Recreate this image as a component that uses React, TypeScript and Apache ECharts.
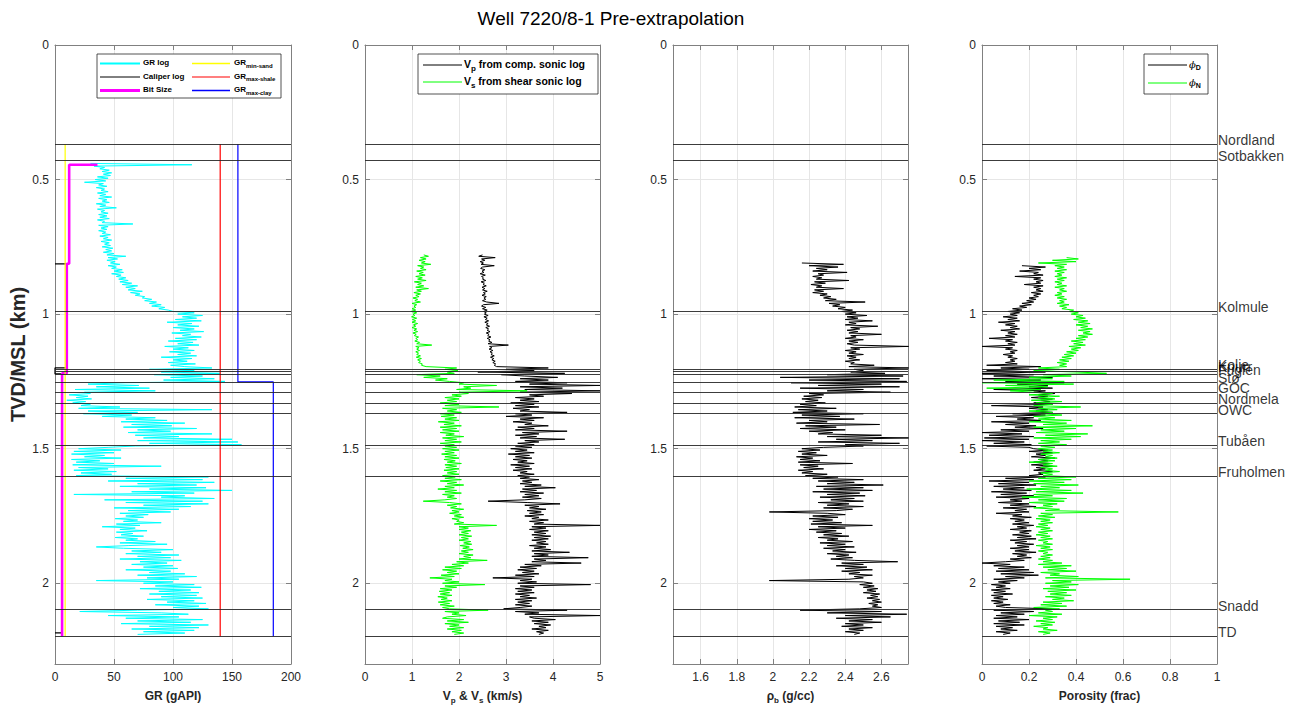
import React, { useEffect, useRef } from "react";
import * as echarts from "echarts";

// ---------------- data ----------------
const STEP = 0.005; // km sampling of the hand-read logs

const GR_START = 0.44;
const GR = [
  30, 116, 33, 42, 38, 46, 40, 48, 41, 47,
  36, 45, 34, 43, 25, 41, 37, 44, 35, 42,
  39, 45, 36, 43, 38, 48, 37, 44, 40, 46,
  35, 43, 38, 52, 36, 42, 39, 45, 37, 44,
  38, 46, 36, 42, 40, 66, 37, 45, 39, 44,
  37, 43, 40, 47, 38, 45, 41, 48, 39, 46,
  42, 47, 40, 49, 43, 48, 41, 50, 44, 60,
  45, 53, 44, 51, 47, 55, 45, 52, 48, 57,
  50, 58, 48, 56, 52, 60, 54, 62, 55, 65,
  57, 70, 60, 68, 62, 74, 64, 72, 68, 76,
  74, 82, 76, 86, 80, 90, 82, 93, 88, 96,
  100, 118, 104, 125, 108, 120, 102, 124, 95, 116,
  104, 122, 100, 118, 106, 126, 99, 115, 108, 124,
  102, 120, 96, 117, 104, 122, 93, 113, 100, 118,
  97, 115, 104, 120, 90, 116, 100, 112, 96, 119,
  98, 110, 133, 80, 118, 90, 140, 84, 125, 98,
  135, 92, 144, 60, 28, 71, 35, 80, 17, 85,
  25, 30, 12, 28, 18, 31, 10, 26, 15, 30,
  22, 55, 20, 133, 28, 70, 24, 65, 40, 85,
  60, 95, 56, 110, 65, 99, 58, 120, 70, 98,
  62, 133, 68, 105, 75, 150, 70, 155, 80, 158,
  68, 45, 20, 56, 16, 50, 14, 42, 25, 56,
  14, 38, 18, 50, 15, 90, 20, 45, 16, 52,
  22, 48, 18, 130, 60, 125, 45, 135, 70, 120,
  55, 128, 80, 150, 65, 118, 16, 110, 90, 135,
  42, 125, 60, 130, 75, 115, 50, 105, 62, 98,
  55, 79, 60, 75, 51, 70, 58, 90, 52, 72,
  40, 68, 55, 78, 52, 66, 56, 75, 51, 70,
  60, 85, 55, 95, 62, 35, 58, 100, 65, 90,
  60, 105, 70, 98, 55, 107, 72, 95, 65, 100,
  75, 104, 60, 98, 80, 110, 70, 120, 78, 105,
  35, 100, 75, 118, 85, 124, 72, 115, 88, 122,
  80, 120, 90, 125, 78, 118, 95, 128, 85, 122,
  100, 130, 70, 21, 90, 113, 45, 105, 60, 125,
  70, 115, 56, 130, 80, 122, 65, 118, 75, 110,
  70,
];

const VP_START = 0.78;
const VP = [
  2.5, 2.42, 2.77, 2.48, 2.55, 2.45, 2.52, 2.47, 2.75, 2.5,
  2.46, 2.55, 2.49, 2.53, 2.45, 2.56, 2.48, 2.52, 2.5, 2.57,
  2.47, 2.54, 2.51, 2.58, 2.49, 2.55, 2.5, 2.6, 2.52, 2.56,
  2.49, 2.58, 2.53, 2.57, 2.5, 2.59, 2.85, 2.52, 2.48, 2.57,
  2.5, 2.6, 2.52, 2.58, 2.54, 2.62, 2.53, 2.6, 2.56, 2.63,
  2.55, 2.62, 2.58, 2.65, 2.57, 2.63, 2.6, 2.66, 2.58, 2.64,
  2.61, 2.68, 2.6, 2.66, 2.63, 2.7, 2.62, 3.05, 2.65, 2.7,
  2.64, 2.72, 2.66, 2.71, 2.68, 2.75, 2.67, 2.74, 2.7, 2.77,
  2.72, 2.78, 2.75, 2.8, 3.9, 3.0, 3.6, 2.4, 4.25, 2.9,
  3.4, 4.1, 3.3, 3.9, 3.2, 4.3, 3.5, 5.0, 3.3, 4.2,
  3.4, 5.0, 3.3, 4.4, 3.5, 3.8, 3.2, 3.6, 3.3, 3.7,
  3.1, 3.6, 3.2, 3.7, 3.15, 3.5, 3.3, 4.3, 3.2, 3.55,
  3.0, 3.8, 3.3, 3.6, 3.15, 3.55, 3.4, 3.9, 3.25, 3.6,
  3.2, 4.3, 3.35, 3.7, 3.2, 3.65, 3.3, 4.25, 3.4, 3.7,
  3.25, 3.6, 3.2, 3.55, 3.1, 3.45, 3.2, 3.6, 3.05, 3.5,
  3.2, 3.55, 3.15, 3.45, 3.25, 3.6, 3.1, 3.5, 3.2, 3.55,
  3.15, 3.45, 3.3, 3.6, 3.25, 3.5, 3.3, 3.7, 3.35, 3.55,
  3.3, 3.75, 3.4, 4.05, 3.35, 3.65, 3.3, 3.8, 3.4, 3.7,
  3.35, 3.75, 3.4, 2.62, 3.45, 4.15, 3.4, 3.7, 3.5, 3.85,
  3.45, 3.75, 3.5, 3.8, 3.4, 3.7, 3.55, 3.9, 3.5, 3.8,
  3.6, 5.0, 3.55, 3.85, 3.5, 3.9, 3.6, 3.85, 3.55, 3.95,
  3.6, 3.9, 3.55, 3.85, 3.65, 3.9, 3.5, 3.85, 3.6, 3.95,
  3.55, 4.35, 3.6, 3.9, 3.55, 4.75, 3.6, 3.85, 3.55, 4.6,
  3.4, 3.75, 3.3, 3.65, 3.25, 3.6, 3.35, 3.7, 3.2, 3.6,
  2.72, 3.55, 3.3, 3.65, 3.25, 4.8, 3.3, 3.6, 3.2, 3.55,
  3.25, 3.6, 3.2, 3.5, 3.3, 3.65, 3.2, 3.55, 3.25, 3.5,
  3.2, 3.55, 3.3, 2.95, 4.3, 3.2, 3.7, 3.4, 5.0, 3.5,
  3.6, 4.05, 3.55, 3.9, 3.6, 3.95, 3.7, 3.85, 3.55, 3.9,
  3.65, 3.8, 3.7,
];

const VS_START = 0.78;
const VS = [
  1.25, 1.35, 1.18, 1.3, 1.15, 1.28, 1.2, 1.4, 1.12, 1.25,
  1.18, 1.3, 1.1, 1.24, 1.15, 1.28, 1.08, 1.22, 1.12, 1.3,
  1.05, 1.2, 1.12, 1.25, 1.08, 1.35, 1.1, 1.2, 1.04, 1.18,
  1.08, 1.15, 1.02, 1.12, 1.06, 1.18, 1.0, 1.1, 1.04, 1.08,
  1.0, 1.08, 0.98, 1.1, 1.02, 1.06, 0.99, 1.1, 1.01, 1.08,
  1.0, 1.12, 1.03, 1.08, 1.0, 1.1, 1.04, 1.12, 1.02, 1.09,
  1.05, 1.14, 1.08, 1.12, 1.06, 1.16, 1.1, 1.42, 1.08, 1.15,
  1.1, 1.16, 1.08, 1.14, 1.1, 1.18, 1.09, 1.2, 1.12, 1.18,
  1.14, 1.22, 1.2, 1.3, 1.95, 1.7, 1.98, 1.75, 1.9, 1.1,
  1.6, 1.25, 1.75, 1.5, 1.8, 2.1, 2.0, 2.8, 2.1, 2.25,
  1.95, 3.45, 2.0, 2.2, 1.85, 2.05, 1.7, 2.0, 1.75, 1.95,
  1.6, 2.0, 1.7, 2.85, 1.65, 1.95, 1.75, 2.05, 1.6, 1.9,
  1.62, 1.95, 1.7, 2.0, 1.56, 1.9, 1.68, 2.05, 1.6, 1.95,
  1.65, 2.0, 1.6, 1.9, 1.72, 2.1, 1.65, 1.95, 1.7, 2.05,
  1.6, 1.9, 1.7, 1.95, 1.65, 2.0, 1.7, 1.9, 1.63, 1.95,
  1.7, 2.0, 1.68, 1.92, 1.75, 2.05, 1.7, 1.95, 1.72, 2.0,
  1.68, 1.95, 1.75, 2.0, 1.65, 1.92, 1.7, 2.05, 1.6, 1.95,
  1.75, 2.1, 1.7, 1.9, 1.55, 1.95, 1.7, 2.05, 1.65, 1.9,
  1.75, 1.95, 1.7, 1.24, 1.8, 2.05, 1.75, 1.95, 1.82, 2.1,
  1.85, 2.0, 1.8, 2.05, 1.9, 2.1, 1.85, 2.0, 1.95, 2.1,
  1.9, 2.8, 2.0, 2.2, 2.0, 2.25, 2.05, 2.2, 2.0, 2.27,
  2.05, 2.2, 2.0, 2.25, 2.1, 2.27, 2.02, 2.22, 2.08, 2.3,
  2.05, 2.2, 2.0, 2.3, 2.1, 2.25, 2.0, 2.6, 1.95, 2.2,
  1.85, 2.1, 1.7, 2.05, 1.65, 1.95, 1.75, 2.0, 1.62, 1.9,
  1.38, 1.85, 1.7, 2.0, 1.65, 2.55, 1.7, 1.95, 1.6, 1.85,
  1.58, 1.8, 1.6, 1.85, 1.55, 1.75, 1.62, 1.85, 1.56, 1.8,
  1.6, 1.9, 1.65, 1.8, 2.62, 1.7, 2.0, 1.85, 2.15, 1.75,
  1.65, 2.1, 1.75, 2.2, 1.7, 2.0, 1.8, 2.1, 1.75, 2.05,
  1.85, 2.1, 1.9,
];

const RHO_START = 0.81;
const RHO = [
  2.16, 2.39, 2.2, 2.36, 2.24, 2.3, 2.22, 2.41, 2.25, 2.28,
  2.22, 2.27, 2.24, 2.42, 2.23, 2.29, 2.21, 2.27, 2.24, 2.39,
  2.23, 2.28, 2.22, 2.3, 2.26, 2.32, 2.28, 2.35, 2.29, 2.51,
  2.31, 2.37, 2.33, 2.4, 2.36, 2.44, 2.38, 2.46, 2.4, 2.52,
  2.41, 2.47, 2.4, 2.55, 2.42, 2.46, 2.4, 2.58, 2.43, 2.48,
  2.41, 2.47, 2.42, 2.6, 2.43, 2.46, 2.4, 2.5, 2.42, 2.47,
  2.41, 2.45, 2.75, 2.43, 2.48, 2.4, 2.46, 2.42, 2.5, 2.41,
  2.46, 2.42, 2.48, 2.4, 2.45, 2.43, 2.56, 2.42, 2.75, 2.45,
  2.5, 2.43, 2.62, 2.3, 2.72, 2.04, 2.7, 2.2, 2.74, 2.1,
  2.6, 2.25, 2.7, 2.15, 2.5, 2.3, 2.65, 2.2, 2.28, 2.17,
  2.27, 2.16, 2.25, 2.18, 2.29, 2.15, 2.24, 2.12, 2.35, 2.14,
  2.3, 2.11, 2.5, 2.16, 2.37, 2.12, 2.45, 2.2, 2.3, 2.13,
  2.59, 2.18, 2.35, 2.15, 2.4, 2.2, 2.33, 2.25, 2.6, 2.3,
  2.75, 2.35, 2.55, 2.25, 2.7, 2.4, 2.5, 2.28, 2.16, 2.26,
  2.14, 2.24, 2.16, 2.3, 2.13, 2.22, 2.15, 2.26, 2.14, 2.44,
  2.15, 2.25, 2.17, 2.28, 2.14, 2.22, 2.16, 2.3, 2.18, 2.36,
  2.22, 2.5, 2.25, 2.45, 2.3, 2.61, 2.24, 2.5, 2.28, 2.55,
  2.22, 2.48, 2.3, 2.51, 2.26, 2.45, 2.32, 2.5, 2.25, 2.42,
  2.3, 2.5, 2.28, 2.44, 2.35, 1.98, 2.3, 2.4, 2.22, 2.36,
  2.2, 2.33, 2.22, 2.38, 2.21, 2.55, 2.25, 2.4, 2.2, 2.35,
  2.24, 2.38, 2.28, 2.42, 2.25, 2.36, 2.3, 2.44, 2.26, 2.4,
  2.3, 2.45, 2.28, 2.4, 2.33, 2.46, 2.3, 2.42, 2.35, 2.44,
  2.32, 2.45, 2.69, 2.38, 2.5, 2.35, 2.52, 2.4, 2.55, 2.38,
  2.48, 2.42, 2.55, 2.45, 2.5, 2.42, 1.98, 2.5, 2.55, 2.48,
  2.56, 2.5, 2.58, 2.52, 2.57, 2.5, 2.59, 2.54, 2.58, 2.52,
  2.59, 2.55, 2.6, 2.53, 2.58, 2.55, 2.6, 2.48, 2.15, 2.6,
  2.3, 2.74, 2.4, 2.65, 2.35, 2.55, 2.42, 2.6, 2.4, 2.5,
  2.38, 2.55, 2.42, 2.5, 2.4, 2.48, 2.45,
];

const PHID_START = 0.82;
const PHID = [
  0.17, 0.27, 0.2, 0.25, 0.16, 0.24, 0.22, 0.26, 0.14, 0.25,
  0.22, 0.26, 0.23, 0.25, 0.18, 0.26, 0.22, 0.25, 0.23, 0.26,
  0.21, 0.25, 0.22, 0.24, 0.2, 0.23, 0.19, 0.22, 0.17, 0.21,
  0.16, 0.19, 0.13, 0.17, 0.11, 0.16, 0.12, 0.15, 0.09, 0.15,
  0.11, 0.16, 0.07, 0.14, 0.1, 0.15, 0.12, 0.16, 0.08, 0.14,
  0.11, 0.15, 0.1, 0.14, 0.03, 0.13, 0.1, 0.15, 0.11, 0.14,
  0.0, 0.13, 0.1, 0.15, 0.12, 0.14, 0.09, 0.13, 0.11, 0.15,
  0.12, 0.14, 0.1, 0.15, 0.02, 0.25, 0.08, 0.2, 0.02, 0.27,
  0.0, 0.22, 0.05, 0.3, 0.0, 0.25, 0.1, 0.35, 0.15, 0.28,
  0.2, 0.3, 0.05, 0.27, 0.22, 0.31, 0.24, 0.28, 0.21, 0.3,
  0.25, 0.29, 0.22, 0.3, 0.04, 0.26, 0.2, 0.28, 0.23, 0.3,
  0.13, 0.27, 0.06, 0.22, 0.15, 0.25, 0.04, 0.2, 0.1, 0.23,
  0.14, 0.26, 0.08, 0.2, 0.0, 0.17, 0.03, 0.22, 0.01, 0.2,
  0.0, 0.18, 0.05, 0.21, 0.02, 0.2, 0.22, 0.28, 0.2, 0.3,
  0.23, 0.27, 0.21, 0.31, 0.24, 0.28, 0.22, 0.29, 0.21, 0.3,
  0.23, 0.27, 0.22, 0.3, 0.24, 0.26, 0.2, 0.27, 0.1, 0.22,
  0.03, 0.2, 0.07, 0.23, 0.05, 0.18, 0.09, 0.21, 0.04, 0.19,
  0.08, 0.22, 0.06, 0.2, 0.12, 0.17, 0.07, 0.2, 0.12, 0.23,
  0.09, 0.19, 0.14, 0.2, 0.06, 0.17, 0.13, 0.21, 0.12, 0.18,
  0.14, 0.2, 0.13, 0.22, 0.15, 0.19, 0.12, 0.21, 0.16, 0.2,
  0.13, 0.21, 0.15, 0.23, 0.12, 0.19, 0.14, 0.22, 0.15, 0.2,
  0.12, 0.2, 0.14, 0.23, 0.13, 0.19, 0.15, 0.21, 0.12, 0.18,
  0.1, 0.0, 0.12, 0.05, 0.18, 0.07, 0.2, 0.06, 0.22, 0.08,
  0.24, 0.1, 0.18, 0.05, 0.15, 0.07, 0.12, 0.04, 0.1, 0.06,
  0.12, 0.04, 0.1, 0.05, 0.13, 0.04, 0.09, 0.05, 0.11, 0.04,
  0.09, 0.05, 0.12, 0.06, 0.1, 0.3, 0.05, 0.22, 0.08, 0.18,
  0.06, 0.15, 0.05, 0.2, 0.07, 0.16, 0.05, 0.18, 0.06, 0.13,
  0.08, 0.15, 0.06, 0.12, 0.09,
];

const PHIN_START = 0.79;
const PHIN = [
  0.36, 0.41, 0.3, 0.4, 0.24, 0.36, 0.31, 0.35, 0.32, 0.36,
  0.31, 0.35, 0.32, 0.34, 0.31, 0.36, 0.32, 0.35, 0.31, 0.34,
  0.32, 0.36, 0.31, 0.35, 0.33, 0.36, 0.32, 0.34, 0.31, 0.35,
  0.32, 0.36, 0.33, 0.35, 0.32, 0.37, 0.33, 0.36, 0.34, 0.39,
  0.37, 0.41, 0.38, 0.43, 0.4, 0.44, 0.39, 0.45, 0.41, 0.46,
  0.4, 0.45, 0.42, 0.47, 0.41, 0.46, 0.43, 0.47, 0.41, 0.45,
  0.4, 0.44, 0.38, 0.43, 0.39, 0.44, 0.37, 0.42, 0.38, 0.41,
  0.36, 0.4, 0.35, 0.39, 0.34, 0.38, 0.33, 0.37, 0.32, 0.36,
  0.33, 0.36, 0.24, 0.33, 0.22, 0.4, 0.53, 0.26, 0.38, 0.2,
  0.3, 0.05, 0.35, 0.0, 0.39, 0.1, 0.28, 0.02, 0.25, 0.12,
  0.22, 0.3, 0.2, 0.33, 0.24, 0.31, 0.21, 0.34, 0.23, 0.3,
  0.22, 0.42, 0.24, 0.32, 0.2, 0.3, 0.25, 0.34, 0.22, 0.31,
  0.24, 0.38, 0.2, 0.36, 0.26, 0.47, 0.22, 0.4, 0.25, 0.35,
  0.23, 0.45, 0.27, 0.42, 0.22, 0.38, 0.25, 0.33, 0.24, 0.36,
  0.25, 0.31, 0.24, 0.3, 0.26, 0.33, 0.25, 0.3, 0.27, 0.32,
  0.24, 0.31, 0.2, 0.3, 0.26, 0.32, 0.25, 0.3, 0.27, 0.33,
  0.25, 0.3, 0.26, 0.4, 0.24, 0.38, 0.2, 0.35, 0.22, 0.41,
  0.25, 0.33, 0.19, 0.38, 0.23, 0.43, 0.22, 0.3, 0.17, 0.36,
  0.24, 0.35, 0.2, 0.32, 0.26, 0.3, 0.22, 0.33, 0.27, 0.58,
  0.25, 0.3, 0.24, 0.31, 0.23, 0.29, 0.25, 0.3, 0.24, 0.28,
  0.23, 0.29, 0.25, 0.3, 0.24, 0.28, 0.23, 0.29, 0.25, 0.3,
  0.24, 0.28, 0.26, 0.3, 0.23, 0.29, 0.25, 0.3, 0.24, 0.28,
  0.26, 0.3, 0.25, 0.29, 0.24, 0.3, 0.26, 0.34, 0.24, 0.38,
  0.26, 0.36, 0.28, 0.4, 0.25, 0.33, 0.29, 0.41, 0.27, 0.63,
  0.3, 0.38, 0.27, 0.41, 0.29, 0.37, 0.26, 0.4, 0.28, 0.36,
  0.29, 0.38, 0.27, 0.35, 0.3, 0.39, 0.26, 0.34, 0.25, 0.36,
  0.22, 0.33, 0.27, 0.3, 0.24, 0.34, 0.2, 0.32, 0.26, 0.3,
  0.23, 0.31, 0.25, 0.3, 0.22, 0.28, 0.26, 0.32, 0.24, 0.29,
  0.26,
];

const FORMATION_NAMES = [
  "Nordland", "Sotbakken", "Kolmule", "Kolje", "Knurr", "Fuglen", "Stø",
  "GOC", "Nordmela", "OWC", "Tubåen", "Fruholmen", "Snadd", "TD",
];
const FORMATION_DEPTHS = [
  0.368, 0.428, 0.99, 1.203, 1.212, 1.222, 1.252,
  1.289, 1.33, 1.37, 1.487, 1.603, 2.098, 2.197,
];

const BIT_DEPTH = [0.445, 0.445, 0.813, 0.813, 1.22, 1.22, 2.197];
const BIT_SIZE = [36, 12, 12, 10, 10, 6, 6];
const CAL_DEPTH = [0.813, 0.813, 1.2, 1.2, 1.222, 1.222, 2.184, 2.184];
const CAL_VALUE = [0, 10, 10, 0, 0, 6, 6, 0];
const CUTOFF_DEPTH = [0.368, 2.197];
const GR_MIN_SAND = 8.6;
const GR_MAX_SHALE = 140;
const CLAY_DEPTH = [0.368, 1.252, 1.252, 2.197];
const CLAY_VALUE = [155, 155, 185, 185];

const Y_MAX = 2.3;
const Y_TICK = 0.5;

// ---------------- styling ----------------
const FONT = "'Liberation Sans', Arial, Helvetica, sans-serif";
const AXIS_COLOR = "#808080";
const TEXT_COLOR = "#262626";
const GRID_COLOR = "#e6e6e6";
const TOP = 45;
const HEIGHT = 619;

const NAME_RICH = {
  b: { fontSize: 12, fontWeight: "bold", color: TEXT_COLOR, fontFamily: FONT, lineHeight: 14, verticalAlign: "top" },
  s: { fontSize: 8, fontWeight: "bold", color: TEXT_COLOR, fontFamily: FONT, lineHeight: 10, padding: [6, 0, 0, 0], verticalAlign: "top" },
};

const PANELS = [
  { left: 55, width: 236, min: 0, max: 200, interval: 50 as number | undefined, showEnds: true, name: "{b|GR (gAPI)}" },
  { left: 365, width: 235, min: 0, max: 5, interval: 1 as number | undefined, showEnds: true, name: "{b|V}{s|p}{b| & V}{s|s}{b| (km/s)}" },
  { left: 673, width: 235, min: 1.447, max: 2.747, interval: undefined as number | undefined, showEnds: false, name: "{b|ρ}{s|b}{b| (g/cc)}" },
  { left: 982, width: 235, min: 0, max: 1, interval: 0.2 as number | undefined, showEnds: true, name: "{b|Porosity (frac)}" },
];

function pairs(start: number, values: number[]) {
  return values.map((v, i) => [v, +(start + i * STEP).toFixed(4)]);
}
function zip(vals: number[], depths: number[]) {
  return vals.map((v, i) => [v, depths[i]]);
}

function buildOption() {
  const grid: any[] = [];
  const xAxis: any[] = [];
  const yAxis: any[] = [];
  const series: any[] = [];

  PANELS.forEach((p, i) => {
    grid.push({ left: p.left, top: TOP, width: p.width, height: HEIGHT, containLabel: false });
    const xCommon: any = {
      gridIndex: i, type: "value", min: p.min, max: p.max,
      axisLine: { show: true, onZero: false, lineStyle: { color: AXIS_COLOR, width: 1 } },
      axisTick: { show: true, inside: true, length: 5, lineStyle: { color: AXIS_COLOR } },
    };
    if (p.interval !== undefined) xCommon.interval = p.interval;
    else { xCommon.splitNumber = 6; xCommon.maxInterval = 0.2; xCommon.minInterval = 0.2; }
    xAxis.push({
      ...xCommon, position: "bottom",
      axisLabel: { show: true, color: TEXT_COLOR, fontSize: 12, fontFamily: FONT, margin: 7, showMinLabel: p.showEnds, showMaxLabel: p.showEnds },
      splitLine: { show: true, lineStyle: { color: GRID_COLOR, width: 1 } },
      name: p.name, nameLocation: "middle", nameGap: 26,
      nameTextStyle: { fontSize: 12, fontWeight: "bold", color: TEXT_COLOR, fontFamily: FONT, rich: NAME_RICH },
    });
    xAxis.push({ ...xCommon, position: "top", axisLabel: { show: false }, splitLine: { show: false } });
    const yCommon: any = {
      gridIndex: i, type: "value", min: 0, max: Y_MAX, interval: Y_TICK, inverse: true,
      axisLine: { show: true, onZero: false, lineStyle: { color: AXIS_COLOR, width: 1 } },
      axisTick: { show: true, inside: true, length: 5, lineStyle: { color: AXIS_COLOR } },
    };
    yAxis.push({
      ...yCommon, position: "left",
      axisLabel: { show: true, color: TEXT_COLOR, fontSize: 12, fontFamily: FONT, margin: 6, showMaxLabel: false },
      splitLine: { show: true, lineStyle: { color: GRID_COLOR, width: 1 } },
      ...(i === 0
        ? {
            name: "TVD/MSL (km)", nameLocation: "middle", nameGap: 27, nameRotate: 90,
            nameTextStyle: { fontSize: 20, fontWeight: "bold", color: TEXT_COLOR, fontFamily: FONT },
          }
        : {}),
    });
    yAxis.push({ ...yCommon, position: "right", axisLabel: { show: false }, splitLine: { show: false } });
  });

  const line = (i: number, name: string, data: any[], color: string, width: number, z = 3) => ({
    type: "line", name, xAxisIndex: 2 * i, yAxisIndex: 2 * i, data, showSymbol: false, symbol: "none",
    lineStyle: { color, width }, itemStyle: { color }, silent: true, z, clip: true,
  });

  // panel 1
  series.push(line(0, "GR log", pairs(GR_START, GR), "#00ffff", 1));
  series.push(line(0, "Caliper log", zip(CAL_VALUE, CAL_DEPTH), "#000000", 1.2));
  series.push(line(0, "Bit Size", zip(BIT_SIZE, BIT_DEPTH), "#ff00ff", 2.6));
  series.push(line(0, "GR min-sand", CUTOFF_DEPTH.map((d) => [GR_MIN_SAND, d]), "#ffff00", 1.2));
  series.push(line(0, "GR max-shale", CUTOFF_DEPTH.map((d) => [GR_MAX_SHALE, d]), "#ff0000", 1.2));
  series.push(line(0, "GR max-clay", zip(CLAY_VALUE, CLAY_DEPTH), "#0000ff", 1.2));
  // panel 2
  series.push(line(1, "Vp", pairs(VP_START, VP), "#000000", 1));
  series.push(line(1, "Vs", pairs(VS_START, VS), "#00ff00", 1));
  // panel 3
  series.push(line(2, "rho", pairs(RHO_START, RHO), "#000000", 1));
  // panel 4
  series.push(line(3, "phiD", pairs(PHID_START, PHID), "#000000", 1));
  series.push(line(3, "phiN", pairs(PHIN_START, PHIN), "#00ff00", 1));

  // formation tops
  PANELS.forEach((p, i) => {
    series.push({
      type: "lines", coordinateSystem: "cartesian2d", xAxisIndex: 2 * i, yAxisIndex: 2 * i,
      silent: true, z: 6,
      lineStyle: { color: "#262626", width: 0.9, opacity: 1 },
      data: FORMATION_DEPTHS.map((d) => ({ coords: [[p.min, d], [p.max, d]] })),
    });
  });
  series.push({
    type: "scatter", xAxisIndex: 6, yAxisIndex: 6, symbolSize: 0, silent: true, clip: false, z: 7,
    data: FORMATION_NAMES.map((n, k) => ({ name: n, value: [1, FORMATION_DEPTHS[k]] })),
    label: {
      show: true, position: "right", distance: 1, formatter: "{b}", offset: [0, -4],
      fontSize: 14, color: "#000", fontFamily: FONT,
    },
  });

  // legends
  const sub = (size: number) => ({
    b: { fontSize: size, fontWeight: "bold", fill: "#000", color: "#000", fontFamily: FONT, lineHeight: size + 2, verticalAlign: "top" },
    s: { fontSize: Math.round(size * 0.75), fontWeight: "bold", fill: "#000", color: "#000", fontFamily: FONT, lineHeight: size * 0.8, padding: [size * 0.5, 0, 0, 0], verticalAlign: "top" },
    phi: { fontSize: size + 1, fontStyle: "italic", fill: "#000", color: "#000", fontFamily: "'DejaVu Serif', serif", lineHeight: size + 3, verticalAlign: "top" },
  });
  const legText = (x: number, y: number, text: string, size: number) => ({
    type: "text", x, y, z: 101, silent: true,
    style: { text, rich: sub(size), verticalAlign: "middle", align: "left", fill: "#000" },
  });
  const legLine = (x1: number, x2: number, y: number, color: string, w: number) => ({
    type: "line", z: 101, silent: true, shape: { x1, y1: y, x2, y2: y }, style: { stroke: color, lineWidth: w },
  });
  const box = (x: number, y: number, w: number, h: number) => ({
    type: "rect", z: 100, silent: true, shape: { x, y, width: w, height: h },
    style: { fill: "#ffffff", stroke: "#262626", lineWidth: 0.8 },
  });

  const graphic: any[] = [
    {
      type: "text", x: 611, y: 18, z: 101, silent: true,
      style: { text: "Well 7220/8-1 Pre-extrapolation", fontSize: 19, fontFamily: FONT, fill: "#000", align: "center", verticalAlign: "middle" },
    },
    box(97, 54, 184, 44),
    legLine(100, 140, 63.5, "#00ffff", 2), legText(143, 63.5, "{b|GR log}", 8),
    legLine(100, 140, 77, "#000000", 1), legText(143, 77, "{b|Caliper log}", 8),
    legLine(100, 140, 90.5, "#ff00ff", 3), legText(143, 90.5, "{b|Bit Size}", 8),
    legLine(192, 230, 63.5, "#ffff00", 1.5), legText(234, 63.5, "{b|GR}{s|min-sand}", 8),
    legLine(192, 230, 77, "#ff0000", 1.2), legText(234, 77, "{b|GR}{s|max-shale}", 8),
    legLine(192, 230, 90.5, "#0000ff", 1.5), legText(234, 90.5, "{b|GR}{s|max-clay}", 8),

    box(418, 54, 180, 40),
    legLine(423, 462, 65, "#000000", 1), legText(464, 65, "{b|V}{s|p}{b| from comp. sonic log}", 10.5),
    legLine(423, 462, 82, "#00ff00", 1), legText(464, 82, "{b|V}{s|s}{b| from shear sonic log}", 10.5),

    box(1144, 54, 64, 40),
    legLine(1148, 1187, 65, "#000000", 1), legText(1189, 65, "{phi|ϕ}{s|D}", 9),
    legLine(1148, 1187, 83, "#00ff00", 1), legText(1189, 83, "{phi|ϕ}{s|N}", 9),
  ];

  return {
    animation: false,
    backgroundColor: "#ffffff",
    textStyle: { fontFamily: FONT },
    grid, xAxis, yAxis, series, graphic,
  };
}

export default function App() {
  const ref = useRef<HTMLDivElement>(null);
  useEffect(() => {
    if (!ref.current) return;
    const chart = echarts.init(ref.current, null, { renderer: "svg" });
    chart.setOption(buildOption() as any);
    return () => chart.dispose();
  }, []);
  return (
    <div
      ref={ref}
      style={{ position: "fixed", left: 0, top: 0, width: 1303, height: 711, background: "#fff" }}
    />
  );
}
